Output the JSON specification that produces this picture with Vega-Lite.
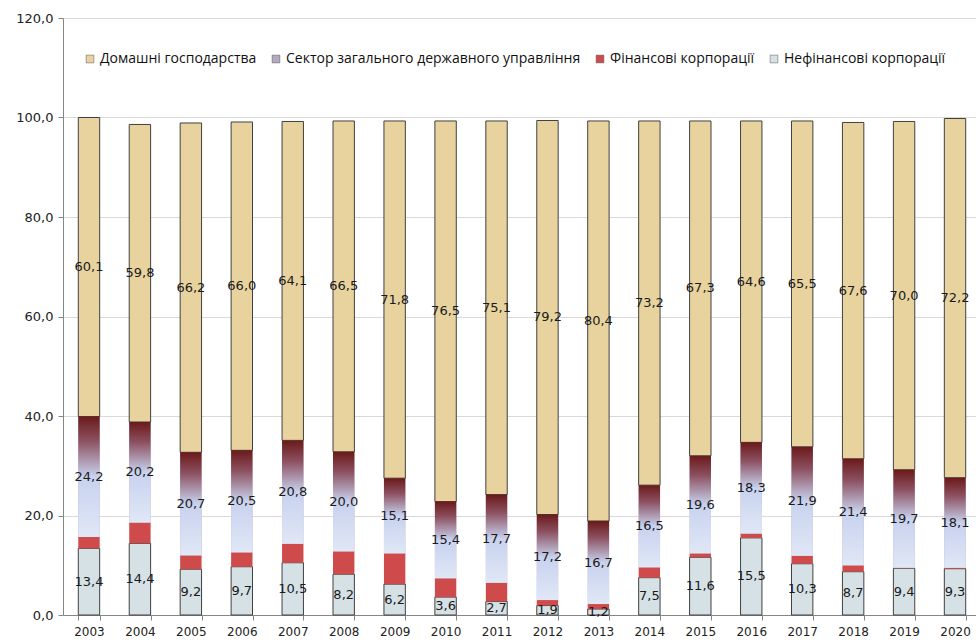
{
  "$schema": "https://vega.github.io/schema/vega-lite/v6.json",
  "width": 918,
  "height": 597,
  "autosize": "none",
  "padding": {"left": 63, "top": 18, "right": 0, "bottom": 28},
  "background": "white",
  "config": {
    "locale": {"number": {"decimal": ",", "thousands": " ", "grouping": [3], "currency": ["", ""]}},
    "view": {"stroke": null},
    "font": "DejaVu Sans"
  },
  "data": {"values": [
    {"year":"2003","series":"Нефінансові корпорації","k":1,"v":13.4},
    {"year":"2003","series":"Фінансові корпорації","k":2,"v":2.3},
    {"year":"2003","series":"Сектор загального державного управління","k":3,"v":24.2},
    {"year":"2003","series":"Домашні господарства","k":4,"v":60.1},
    {"year":"2004","series":"Нефінансові корпорації","k":1,"v":14.4},
    {"year":"2004","series":"Фінансові корпорації","k":2,"v":4.2},
    {"year":"2004","series":"Сектор загального державного управління","k":3,"v":20.2},
    {"year":"2004","series":"Домашні господарства","k":4,"v":59.8},
    {"year":"2005","series":"Нефінансові корпорації","k":1,"v":9.2},
    {"year":"2005","series":"Фінансові корпорації","k":2,"v":2.8},
    {"year":"2005","series":"Сектор загального державного управління","k":3,"v":20.7},
    {"year":"2005","series":"Домашні господарства","k":4,"v":66.2},
    {"year":"2006","series":"Нефінансові корпорації","k":1,"v":9.7},
    {"year":"2006","series":"Фінансові корпорації","k":2,"v":2.9},
    {"year":"2006","series":"Сектор загального державного управління","k":3,"v":20.5},
    {"year":"2006","series":"Домашні господарства","k":4,"v":66.0},
    {"year":"2007","series":"Нефінансові корпорації","k":1,"v":10.5},
    {"year":"2007","series":"Фінансові корпорації","k":2,"v":3.8},
    {"year":"2007","series":"Сектор загального державного управління","k":3,"v":20.8},
    {"year":"2007","series":"Домашні господарства","k":4,"v":64.1},
    {"year":"2008","series":"Нефінансові корпорації","k":1,"v":8.2},
    {"year":"2008","series":"Фінансові корпорації","k":2,"v":4.6},
    {"year":"2008","series":"Сектор загального державного управління","k":3,"v":20.0},
    {"year":"2008","series":"Домашні господарства","k":4,"v":66.5},
    {"year":"2009","series":"Нефінансові корпорації","k":1,"v":6.2},
    {"year":"2009","series":"Фінансові корпорації","k":2,"v":6.2},
    {"year":"2009","series":"Сектор загального державного управління","k":3,"v":15.1},
    {"year":"2009","series":"Домашні господарства","k":4,"v":71.8},
    {"year":"2010","series":"Нефінансові корпорації","k":1,"v":3.6},
    {"year":"2010","series":"Фінансові корпорації","k":2,"v":3.8},
    {"year":"2010","series":"Сектор загального державного управління","k":3,"v":15.4},
    {"year":"2010","series":"Домашні господарства","k":4,"v":76.5},
    {"year":"2011","series":"Нефінансові корпорації","k":1,"v":2.7},
    {"year":"2011","series":"Фінансові корпорації","k":2,"v":3.8},
    {"year":"2011","series":"Сектор загального державного управління","k":3,"v":17.7},
    {"year":"2011","series":"Домашні господарства","k":4,"v":75.1},
    {"year":"2012","series":"Нефінансові корпорації","k":1,"v":1.9},
    {"year":"2012","series":"Фінансові корпорації","k":2,"v":1.1},
    {"year":"2012","series":"Сектор загального державного управління","k":3,"v":17.2},
    {"year":"2012","series":"Домашні господарства","k":4,"v":79.2},
    {"year":"2013","series":"Нефінансові корпорації","k":1,"v":1.2},
    {"year":"2013","series":"Фінансові корпорації","k":2,"v":1.0},
    {"year":"2013","series":"Сектор загального державного управління","k":3,"v":16.7},
    {"year":"2013","series":"Домашні господарства","k":4,"v":80.4},
    {"year":"2014","series":"Нефінансові корпорації","k":1,"v":7.5},
    {"year":"2014","series":"Фінансові корпорації","k":2,"v":2.1},
    {"year":"2014","series":"Сектор загального державного управління","k":3,"v":16.5},
    {"year":"2014","series":"Домашні господарства","k":4,"v":73.2},
    {"year":"2015","series":"Нефінансові корпорації","k":1,"v":11.6},
    {"year":"2015","series":"Фінансові корпорації","k":2,"v":0.8},
    {"year":"2015","series":"Сектор загального державного управління","k":3,"v":19.6},
    {"year":"2015","series":"Домашні господарства","k":4,"v":67.3},
    {"year":"2016","series":"Нефінансові корпорації","k":1,"v":15.5},
    {"year":"2016","series":"Фінансові корпорації","k":2,"v":0.9},
    {"year":"2016","series":"Сектор загального державного управління","k":3,"v":18.3},
    {"year":"2016","series":"Домашні господарства","k":4,"v":64.6},
    {"year":"2017","series":"Нефінансові корпорації","k":1,"v":10.3},
    {"year":"2017","series":"Фінансові корпорації","k":2,"v":1.6},
    {"year":"2017","series":"Сектор загального державного управління","k":3,"v":21.9},
    {"year":"2017","series":"Домашні господарства","k":4,"v":65.5},
    {"year":"2018","series":"Нефінансові корпорації","k":1,"v":8.7},
    {"year":"2018","series":"Фінансові корпорації","k":2,"v":1.3},
    {"year":"2018","series":"Сектор загального державного управління","k":3,"v":21.4},
    {"year":"2018","series":"Домашні господарства","k":4,"v":67.6},
    {"year":"2019","series":"Нефінансові корпорації","k":1,"v":9.4},
    {"year":"2019","series":"Фінансові корпорації","k":2,"v":0.1},
    {"year":"2019","series":"Сектор загального державного управління","k":3,"v":19.7},
    {"year":"2019","series":"Домашні господарства","k":4,"v":70.0},
    {"year":"2020","series":"Нефінансові корпорації","k":1,"v":9.3},
    {"year":"2020","series":"Фінансові корпорації","k":2,"v":0.2},
    {"year":"2020","series":"Сектор загального державного управління","k":3,"v":18.1},
    {"year":"2020","series":"Домашні господарства","k":4,"v":72.2}
  ]},
  "transform": [
    {"stack": "v", "groupby": ["year"], "sort": [{"field": "k", "order": "ascending"}], "as": ["y0", "y1"]}
  ],
  "encoding": {
    "x": {
      "field": "year", "type": "ordinal", "title": null,
      "scale": {"paddingInner": 0.58, "paddingOuter": 0.3},
      "axis": {
        "labelAngle": 0, "labelFontSize": 12, "labelColor": "#222", "labelPadding": 6,
        "tickBand": "extent", "ticks": true, "tickSize": 5, "tickColor": "#868686",
        "domainColor": "#868686", "grid": false
      }
    }
  },
  "layer": [
    {
      "mark": {"type": "bar", "strokeWidth": 1},
      "encoding": {
        "y": {
          "field": "y0", "type": "quantitative", "title": null,
          "scale": {"domain": [0, 120], "nice": false},
          "axis": {
            "values": [0, 20, 40, 60, 80, 100, 120], "format": ".1f",
            "labelFontSize": 13, "labelColor": "#222", "labelPadding": 5,
            "tickSize": 5, "tickColor": "#868686", "domainColor": "#868686",
            "grid": true, "gridColor": "#D9D9D9"
          }
        },
        "y2": {"field": "y1"},
        "color": {
          "field": "series", "type": "nominal",
          "scale": {
            "domain": ["Домашні господарства", "Сектор загального державного управління", "Фінансові корпорації", "Нефінансові корпорації"],
            "range": ["#E8D39E", "#B4A8C4", "#CF4A4A", "#D6E1E6"]
          },
          "legend": {
            "title": null, "orient": "none", "legendX": 20, "legendY": 34,
            "direction": "horizontal", "columnPadding": 12,
            "symbolType": "square", "symbolSize": 60, "symbolStrokeColor": "#555", "symbolStrokeWidth": 0.5,
            "labelFont": "Open Sans", "labelFontSize": 14, "labelColor": "#111", "labelOffset": 3,
            "labelLimit": 400
          }
        },
        "stroke": {
          "condition": {"test": "datum.k == 1 || datum.k == 4", "value": "#404040"},
          "value": "transparent"
        }
      }
    },
    {
      "transform": [{"filter": "datum.k == 3"}],
      "mark": {
        "type": "bar",
        "fill": {
          "gradient": "linear", "x1": 0, "y1": 0, "x2": 0, "y2": 1,
          "stops": [
            {"offset": 0, "color": "#6A1A1A"},
            {"offset": 0.2, "color": "#8C5060"},
            {"offset": 0.5, "color": "#C8D2EE"},
            {"offset": 1, "color": "#E0E7F6"}
          ]
        }
      },
      "encoding": {
        "y": {"field": "y0", "type": "quantitative"},
        "y2": {"field": "y1"}
      }
    },
    {
      "transform": [
        {"filter": "datum.k != 2"},
        {"calculate": "(datum.y0 + datum.y1) / 2", "as": "ymid"}
      ],
      "mark": {"type": "text", "fontSize": 13, "color": "#1a1a1a", "font": "DejaVu Sans"},
      "encoding": {
        "y": {"field": "ymid", "type": "quantitative"},
        "text": {"field": "v", "type": "quantitative", "format": ".1f"}
      }
    }
  ]
}
